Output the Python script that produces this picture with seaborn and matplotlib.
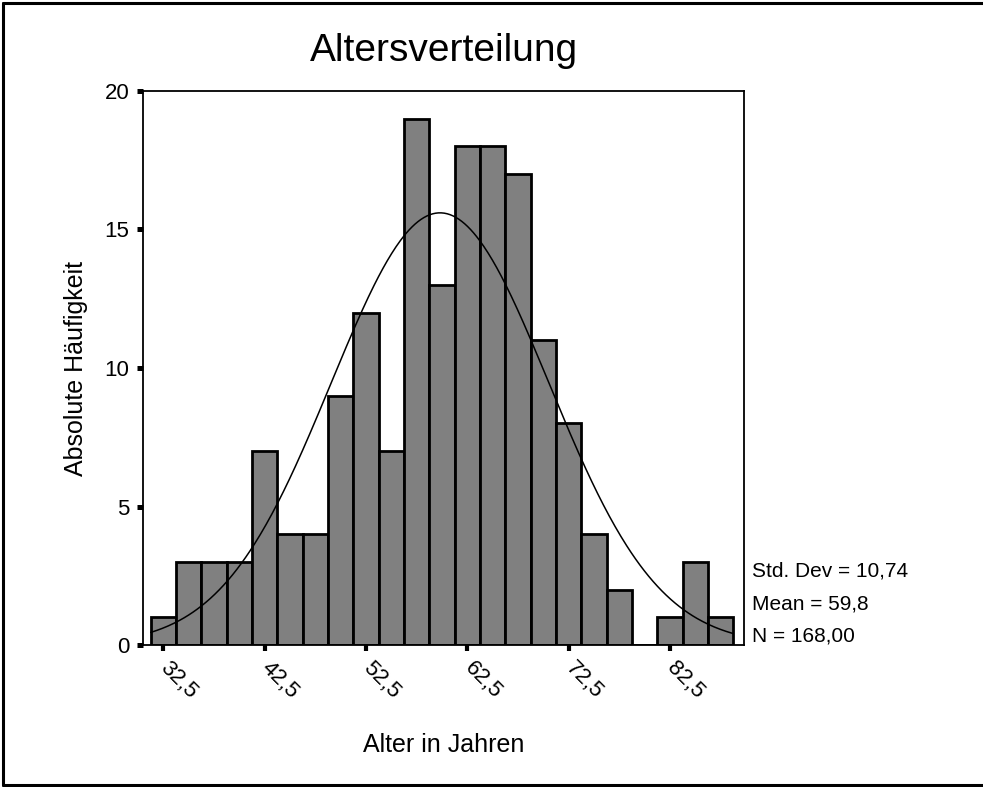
import numpy as np
import pandas as pd
import seaborn as sns
import matplotlib.pyplot as plt
from matplotlib.lines import Line2D

# Histogram counts (bin width 2.5 years)
bin_centers = [32.5, 35.0, 37.5, 40.0, 42.5, 45.0, 47.5, 50.0, 52.5, 55.0, 57.5, 60.0,
               62.5, 65.0, 67.5, 70.0, 72.5, 75.0, 77.5, 80.0, 82.5, 85.0, 87.5]
counts = [1, 3, 3, 3, 7, 4, 4, 9, 12, 7, 19, 13, 18, 18, 17, 11, 8, 4, 2, 0, 1, 3, 1]
bin_width = 2.5

# Summary statistics shown next to the chart
std_dev = 10.74
mean = 59.8
n_total = 168

x_ticks = [32.5, 42.5, 52.5, 62.5, 72.5, 82.5]
x_tick_labels = ['32,5', '42,5', '52,5', '62,5', '72,5', '82,5']
y_ticks = [0, 5, 10, 15, 20]

sns.set_theme(style='white')
plt.rcParams['font.family'] = ['Liberation Sans', 'DejaVu Sans']
plt.rcParams['text.color'] = 'black'
plt.rcParams['axes.labelcolor'] = 'black'
plt.rcParams['xtick.color'] = 'black'
plt.rcParams['ytick.color'] = 'black'

df = pd.DataFrame({'Alter': bin_centers, 'Anzahl': counts})
edges = [c - bin_width / 2 for c in bin_centers] + [bin_centers[-1] + bin_width / 2]

fig = plt.figure(figsize=(9.83, 7.87), dpi=100)
ax = fig.add_axes([0.1458, 0.1804, 0.6111, 0.704])

sns.histplot(data=df, x='Alter', weights='Anzahl', bins=edges, color='#808080',
             edgecolor='black', linewidth=2, alpha=1, ax=ax)

# Fitted normal curve scaled to the counts
xs = np.linspace(edges[0], edges[-1], 400)
ys = n_total * bin_width * np.exp(-0.5 * ((xs - mean) / std_dev) ** 2) / (std_dev * np.sqrt(2 * np.pi))
sns.lineplot(x=xs, y=ys, color='black', linewidth=1.1, ax=ax)

ax.set_xlim(30.52, 89.8)
ax.set_ylim(0, 20)

for side in ['left', 'right', 'top', 'bottom']:
    ax.spines[side].set_visible(True)
    ax.spines[side].set_color('black')
    ax.spines[side].set_linewidth(1.3)

ax.set_yticks(y_ticks)
ax.set_yticklabels([str(v) for v in y_ticks], fontsize=16)
ax.tick_params(axis='y', direction='out', length=4.3, width=3.6, color='black', pad=5.8, left=True)

ax.set_xticks(x_ticks)
ax.set_xticklabels(x_tick_labels, fontsize=16, rotation=-45, ha='left', va='center',
                   rotation_mode='anchor')
ax.tick_params(axis='x', direction='out', length=4.3, width=3, color='black', pad=10, bottom=True)

ax.set_title('Altersverteilung', fontsize=28, pad=21.6)

ax.set_xlabel('Alter in Jahren', fontsize=18)
ax.xaxis.label.set_va('baseline')
ax.xaxis.set_label_coords(0.5, -0.193)

ax.set_ylabel('Absolute Häufigkeit', fontsize=18)
ax.yaxis.label.set_va('baseline')
ax.yaxis.set_label_coords(-0.1003, 0.5)

stats = ['Std. Dev = ' + f'{std_dev:.2f}'.replace('.', ','),
         'Mean = ' + f'{mean:.1f}'.replace('.', ','),
         'N = ' + f'{n_total:.2f}'.replace('.', ',')]
for i, line in enumerate(stats):
    ax.text(1.0138, [0.1233, 0.065, 0.006][i], line, transform=ax.transAxes,
            fontsize=15, va='baseline', ha='left')

# outer frame: left, top and bottom only (right side runs off the image)
x0, y0, y1 = 3 / 983, 2 / 787, 784 / 787
for xd, yd in [([x0, x0], [y0, y1]), ([x0, 1.0], [y1, y1]), ([x0, 1.0], [y0, y0])]:
    fig.add_artist(Line2D(xd, yd, transform=fig.transFigure, color='black', linewidth=2.2))

fig.savefig('out.png', dpi=100)
